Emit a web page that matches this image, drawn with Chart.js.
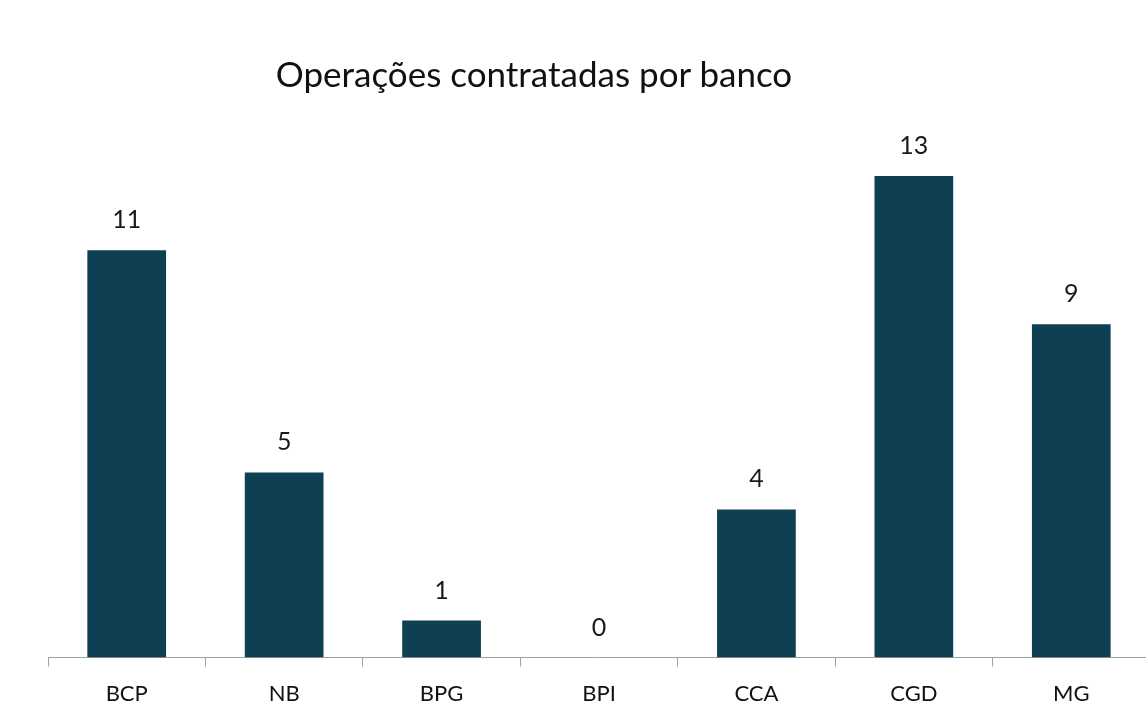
<!DOCTYPE html>
<html>
<head>
<meta charset="utf-8">
<script src="https://cdn.jsdelivr.net/npm/chart.js@4"></script>
<style>
  html, body { margin: 0; padding: 0; background: #fff; overflow: hidden; }
  #wrap { position: relative; width: 1150px; height: 721px; }
  #title {
    position: absolute; left: 0; width: 1068px; top: 52px;
    text-align: center; font-family: Lato, sans-serif; font-size: 35px;
    color: #111; margin: 0; font-weight: normal;
  }
</style>
</head>
<body>
<div id="wrap">
  <h1 id="title">Operações contratadas por banco</h1>
  <canvas id="myChart" width="1150" height="721"></canvas>
</div>
<script>
const banks = ["BCP", "NB", "BPG", "BPI", "CCA", "CGD", "MG"];
const operations = [11, 5, 1, 0, 4, 13, 9];

const ctx = document.getElementById('myChart');

// writes the number above each bar
const valueLabels = {
    id: 'valueLabels',
    afterDatasetsDraw(chart) {
        const c = chart.ctx;
        c.save();
        c.font = '25px Lato, sans-serif';
        c.fillStyle = '#1a1a1a';
        c.textAlign = 'center';
        c.textBaseline = 'middle';
        chart.getDatasetMeta(0).data.forEach((bar, i) => {
            c.fillText(String(operations[i]), bar.x, bar.y - 30);
        });
        c.restore();
    }
};

new Chart(ctx, {
    type: 'bar',
    data: {
        labels: banks,
        datasets: [{
            label: "Operações",
            data: operations,
            backgroundColor: '#0f3f53',
            barPercentage: 0.5,
            categoryPercentage: 1
        }]
    },
    options: {
        responsive: false,
        animation: false,
        layout: { padding: { left: 48, right: 0, top: 139, bottom: 0 } },
        plugins: {
            legend: { display: false },
            tooltip: { enabled: false }
        },
        scales: {
            y: {
                display: false,
                min: 0,
                max: 14
            },
            x: {
                offset: true,
                border: { display: true, color: '#a0a0a0', width: 1 },
                grid: {
                    offset: true,
                    drawOnChartArea: false,
                    drawTicks: true,
                    tickLength: 9,
                    color: '#a0a0a0'
                },
                ticks: {
                    padding: 14,
                    color: '#111',
                    font: { family: 'Lato, sans-serif', size: 22 }
                }
            }
        }
    },
    plugins: [valueLabels]
});
</script>
</body>
</html>
